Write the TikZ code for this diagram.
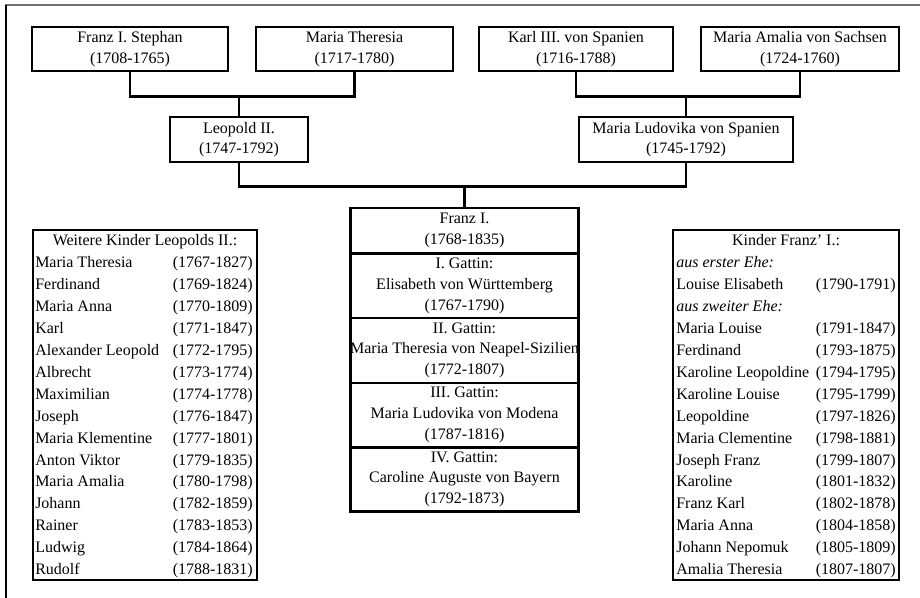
\documentclass[tikz,border=0pt]{standalone}
\usepackage{fontspec}
\setmainfont{Liberation Serif}
\usetikzlibrary{positioning, calc}

\begin{document}
\begin{tikzpicture}[x=0.75pt, y=-0.75pt,
    every node/.style={font=\fontsize{12}{15.5}\selectfont, inner sep=0pt},
    person/.style={draw, line width=2.2pt, align=center, minimum height=33pt},
    section/.style={align=center, minimum width=170.25pt, minimum height=48pt},
    line/.style={line width=2.2pt},
    listbox/.style={draw, line width=1.5pt, minimum height=262.5pt}]
    \useasboundingbox (0,0) rectangle (920,598);
    % frame
    \draw[black!55, line width=1.5pt] (5,5) -- (920,5);
    \draw[line width=1.5pt] (6,5) -- (6,598);

    % grandparents
    \node[person, minimum width=147pt] (fs) at (130,49) {Franz I. Stephan\\(1708-1765)};
    \node[person, minimum width=147.75pt] (mt) at (354.5,49) {Maria Theresia\\(1717-1780)};
    \node[person, minimum width=145.5pt] (ks) at (576,49) {Karl III. von Spanien\\(1716-1788)};
    \node[person, minimum width=148.5pt] (ma) at (800,49) {Maria Amalia von Sachsen\\(1724-1760)};

    % parents
    \node[person, minimum width=103.5pt, minimum height=33.75pt] (lp) at (239,139.5) {Leopold II.\\(1747-1792)};
    \node[person, minimum width=160.5pt, minimum height=33.75pt] (ml) at (686,139.5) {Maria Ludovika von Spanien\\(1745-1792)};

    % Franz I. and his wives
    \node[section, minimum height=33.75pt, anchor=north] (fz) at (464.5,208) {Franz I.\\(1768-1835)};
    \node[section, below=0pt of fz] (g1) {I. Gattin:\\Elisabeth von Württemberg\\(1767-1790)};
    \node[section, below=0pt of g1] (g2) {II. Gattin:\\Maria Theresia von Neapel-Sizilien\\(1772-1807)};
    \node[section, below=0pt of g2] (g3) {III. Gattin:\\Maria Ludovika von Modena\\(1787-1816)};
    \node[section, below=0pt of g3] (g4) {IV. Gattin:\\Caroline Auguste von Bayern\\(1792-1873)};
    \draw[line] (fz.north west) rectangle (g4.south east);
    \draw[line] (fz.south west) -- (fz.south east);
    \draw[line width=1.5pt] (g1.south west) -- (g1.south east);
    \draw[line width=1.5pt] (g3.north west) -- (g3.north east);
    \draw[line] (g4.north west) -- (g4.north east);

    % connectors
    \coordinate (gl) at ($(fs.south)+(0,24)$);
    \coordinate (gr) at ($(ks.south)+(0,24)$);
    \coordinate (pp) at ($(lp.south)+(0,23)$);
    \draw[line] (fs.south) -- (gl) -| (mt.south);
    \draw[line] (lp.north) -- (lp.north |- gl);
    \draw[line] (ks.south) -- (gr) -| (ma.south);
    \draw[line] (ml.north) -- (ml.north |- gr);
    \draw[line] (lp.south) -- (pp) -| (ml.south);
    \draw[line] (fz.north) -- (fz.north |- pp);

    % further children of Leopold II.
    \node[listbox, minimum width=168pt] (lk) at (145,405) {};
    \node[anchor=base] (lkh) at (145,246) {Weitere Kinder Leopolds II.:};
    \foreach \name/\years [count=\i] in {Maria Theresia/1767-1827, Ferdinand/1769-1824,
        Maria Anna/1770-1809, Karl/1771-1847, Alexander Leopold/1772-1795,
        Albrecht/1773-1774, Maximilian/1774-1778, Joseph/1776-1847,
        Maria Klementine/1777-1801, Anton Viktor/1779-1835, Maria Amalia/1780-1798,
        Johann/1782-1859, Rainer/1783-1853, Ludwig/1784-1864, Rudolf/1788-1831} {
        \node[anchor=base west] (lkn\i) at (35,246+21.9*\i) {\name};
        \node[anchor=base east] (lky\i) at (253,246+21.9*\i) {(\years)};
    }

    % children of Franz I.
    \node[listbox, minimum width=169.5pt] (kf) at (786,405) {};
    \node[anchor=base] (kfh) at (786,246) {Kinder Franz’ I.:};
    \node[anchor=base west] (kfe1) at (676,246+21.9) {\itshape aus erster Ehe:};
    \node[anchor=base west] (kfe2) at (676,246+21.9*3) {\itshape aus zweiter Ehe:};
    \foreach \r/\name/\years in {2/Louise Elisabeth/1790-1791, 4/Maria Louise/1791-1847,
        5/Ferdinand/1793-1875, 6/Karoline Leopoldine/1794-1795, 7/Karoline Louise/1795-1799,
        8/Leopoldine/1797-1826, 9/Maria Clementine/1798-1881, 10/Joseph Franz/1799-1807,
        11/Karoline/1801-1832, 12/Franz Karl/1802-1878, 13/Maria Anna/1804-1858,
        14/Johann Nepomuk/1805-1809, 15/Amalia Theresia/1807-1807} {
        \node[anchor=base west] (kfn\r) at (676,246+21.9*\r) {\name};
        \node[anchor=base east] (kfy\r) at (896,246+21.9*\r) {(\years)};
    }
\end{tikzpicture}
\end{document}
